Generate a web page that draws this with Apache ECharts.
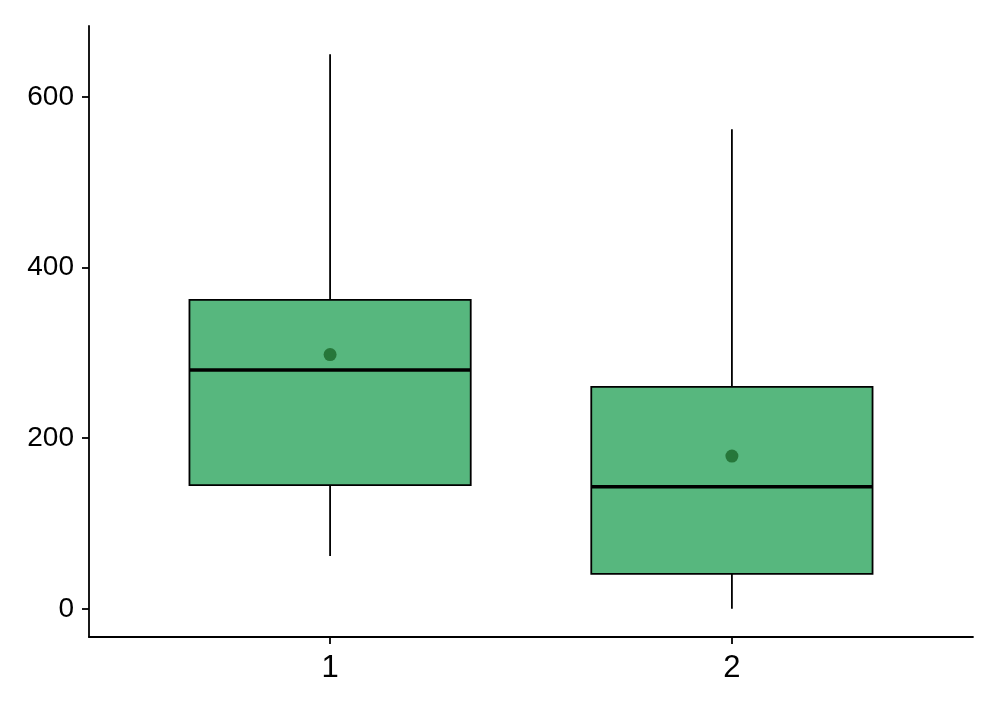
<!DOCTYPE html>
<html><head><meta charset="utf-8">
<script src="https://cdn.jsdelivr.net/npm/echarts@6/dist/echarts.min.js"></script>
<style>html,body{margin:0;padding:0;background:#fff}#c{width:1004px;height:709px}</style>
</head><body><div id="c"></div>
<script>
var categories = ['1', '2'];
var whiskerLow = [62, 0];
var q1 = [145, 41];
var median = [280, 143];
var q3 = [362, 260];
var whiskerHigh = [650, 562];
var means = [298, 179];
var yTicks = [0, 200, 400, 600];

var boxData = categories.map(function (c, i) {
  return [i + 1, whiskerLow[i], q1[i], median[i], q3[i], whiskerHigh[i]];
});
var meanData = categories.map(function (c, i) { return [i + 1, means[i]]; });

var chart = echarts.init(document.getElementById('c'), null, {renderer: 'canvas'});
var font = '"Liberation Sans", Arial, sans-serif';
chart.setOption({
  animation: false,
  backgroundColor: '#fff',
  grid: {left: 89, right: 31, top: 26, bottom: 72, containLabel: false},
  xAxis: {
    type: 'value', min: 0.4, max: 2.6,
    splitLine: {show: false},
    axisLine: {show: true, onZero: false, lineStyle: {color: '#000', width: 1.8}},
    axisTick: {show: true, customValues: [1, 2], length: 7, lineStyle: {color: '#000', width: 1.8}},
    axisLabel: {show: true, customValues: [1, 2], color: '#000', fontSize: 31, fontFamily: font, margin: 16,
      formatter: function (v) { return categories[Math.round(v) - 1]; }}
  },
  yAxis: {
    type: 'value', min: -33, max: 683,
    splitLine: {show: false},
    axisLine: {show: true, onZero: false, lineStyle: {color: '#000', width: 1.8}},
    axisTick: {show: true, customValues: yTicks, length: 7, lineStyle: {color: '#000', width: 1.8}},
    axisLabel: {show: true, customValues: yTicks, color: '#000', fontSize: 28, fontFamily: font, margin: 15}
  },
  series: [{
    type: 'custom',
    data: boxData,
    renderItem: function (params, api) {
      var x = api.value(0);
      var half = api.size([0.7, 0])[0] / 2;
      var pLow = api.coord([x, api.value(1)]);
      var pQ1 = api.coord([x, api.value(2)]);
      var pMed = api.coord([x, api.value(3)]);
      var pQ3 = api.coord([x, api.value(4)]);
      var pHigh = api.coord([x, api.value(5)]);
      var ls = {stroke: '#000', lineWidth: 1.8};
      return {type: 'group', children: [
        {type: 'line', shape: {x1: pHigh[0], y1: pHigh[1], x2: pQ3[0], y2: pQ3[1]}, style: ls},
        {type: 'line', shape: {x1: pLow[0], y1: pLow[1], x2: pQ1[0], y2: pQ1[1]}, style: ls},
        {type: 'rect', shape: {x: pQ3[0] - half, y: pQ3[1], width: half * 2, height: pQ1[1] - pQ3[1]},
          style: {fill: '#57b77e', stroke: '#000', lineWidth: 1.8}},
        {type: 'line', shape: {x1: pMed[0] - half, y1: pMed[1], x2: pMed[0] + half, y2: pMed[1]},
          style: {stroke: '#000', lineWidth: 3.5}}
      ]};
    }
  }, {
    type: 'scatter',
    data: meanData,
    symbol: 'circle',
    symbolSize: 13,
    itemStyle: {color: '#1a6629'},
    z: 5
  }]
});
</script></body></html>
